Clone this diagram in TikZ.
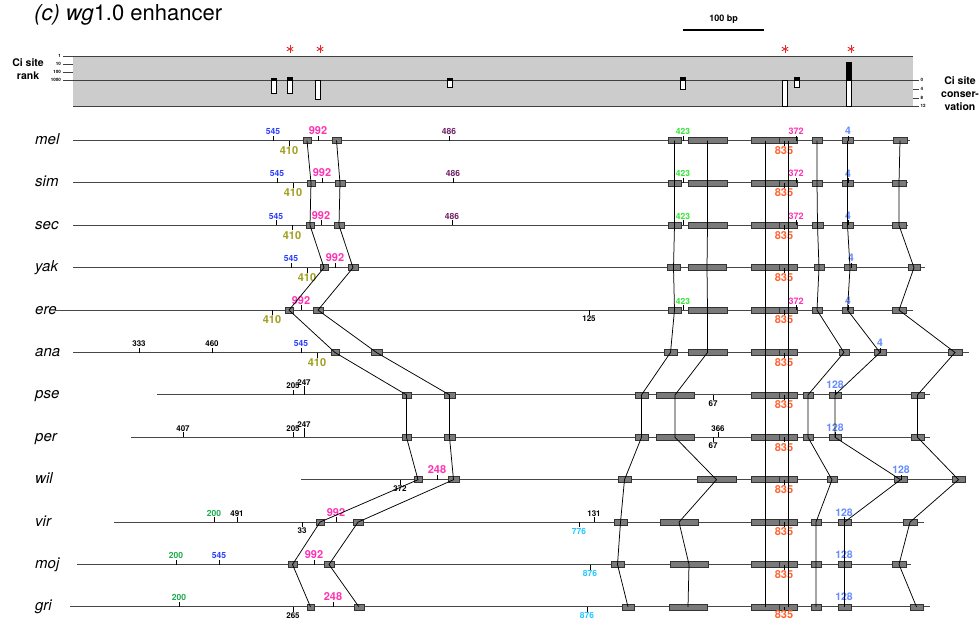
\documentclass[tikz,border=0pt]{standalone}
\usepackage{fontspec}
\setmainfont{TeX Gyre Heros}
\usetikzlibrary{positioning}
\definecolor{SiteBlue}{RGB}{40,60,255}
\definecolor{SiteOlive}{RGB}{160,160,30}
\definecolor{SiteMagenta}{RGB}{255,50,180}
\definecolor{SitePurple}{RGB}{110,30,100}
\definecolor{SiteGreen}{RGB}{50,230,50}
\definecolor{SiteOrange}{RGB}{255,100,50}
\definecolor{SiteSky}{RGB}{100,140,255}
\definecolor{SiteJade}{RGB}{30,170,80}
\definecolor{SiteCyan}{RGB}{30,200,255}
\definecolor{PanelGray}{RGB}{204,204,204}
\definecolor{StarRed}{RGB}{230,40,40}
\tikzset{
	chrom/.style={draw=black!72,line width=1.1pt},
	blk/.style={draw=black!80,fill=black!52,line width=0.6pt,inner sep=0pt,minimum height=6pt},
	link/.style={draw=black,line width=0.75pt},
	tick/.style={draw=black,line width=0.6pt},
	rule/.style={draw=black!75,line width=0.9pt},
	sp/.style={font=\itshape\fontsize{15}{16}\selectfont,inner sep=0pt,anchor=base west},
	axlab/.style={font=\bfseries\fontsize{10.5}{13}\selectfont,align=center,inner sep=0pt},
	tiny/.style={font=\bfseries\fontsize{4.5}{5}\selectfont,inner sep=0.3pt},
	lab/.style={inner sep=0.6pt,font=\bfseries\fontsize{8.5}{9}\selectfont},
	big/.style={font=\bfseries\fontsize{11}{12}\selectfont},
	s545/.style={lab,text=SiteBlue},
	s410/.style={lab,big,text=SiteOlive},
	s992/.style={lab,big,text=SiteMagenta},
	s486/.style={lab,text=SitePurple},
	s423/.style={lab,text=SiteGreen},
	s372/.style={lab,font=\bfseries\fontsize{9}{10}\selectfont,text=SiteMagenta},
	s835/.style={lab,big,text=SiteOrange},
	s128/.style={lab,font=\bfseries\fontsize{10.5}{11}\selectfont,text=SiteSky},
	s200/.style={lab,text=SiteJade},
	s876/.style={lab,text=SiteCyan},
	sk/.style={lab,font=\bfseries\fontsize{8}{9}\selectfont,text=black},
}
% site tick with label above / below the sequence line
\newcommand{\upsite}[5][5]{\draw[tick] (#3,0) -- (#3,-#1) node[above,#5] (#2-n#4) {#4};}
\newcommand{\dnsite}[5][5]{\draw[tick] (#3,0) -- (#3,#1) node[below,#5] (#2-n#4) {#4};}
% rank / conservation bar of the top panel
\newcommand{\cibar}[3]{%
	\filldraw[fill=white,draw=black,line width=0.7pt] (#1-2.5,80) rectangle (#1+2.5,#3);
	\filldraw[black,line width=0.7pt] (#1-2.5,#2) rectangle (#1+2.5,80);}
\newcommand{\cistar}[2]{\foreach \a in {90,150,210} \draw[StarRed,line width=0.9pt] (#1,#2) ++(\a:3.6) -- ++(\a+180:7.2);}

\begin{document}
\begin{tikzpicture}[x=1pt,y=-1pt]
	\useasboundingbox (0,0) rectangle (979,621);
	\node[anchor=west,inner sep=0pt,font=\fontsize{22}{25}\selectfont] (title) at (34,15) {\textit{(c) wg}1.0 enhancer};

	% scale bar
	\coordinate (bar-l) at (683,30);
	\coordinate (bar-r) at (764,30);
	\draw[line width=1.3pt] (bar-l) -- (bar-r);
	\node[font=\bfseries\fontsize{9}{10}\selectfont,inner sep=0pt] (bar-t) at (723.5,19) {100 bp};

	% Ci site panel
	\fill[PanelGray] (73,56) rectangle (913,106);
	\draw[rule] (63,56) -- (913,56);
	\draw[rule] (63,80) -- (919,80);
	\draw[rule] (73,106) -- (919,106);
	\foreach \y in {64,72} \draw[rule] (63,\y) -- (73,\y);
	\foreach \y in {89,98} \draw[rule] (913,\y) -- (919,\y);
	\foreach \v/\y in {1/56,10/64,100/72,1000/80} \node[tiny,anchor=east] (rk\v) at (61.5,\y) {\v};
	\foreach \v/\y in {0/80,4/89,8/98,12/106} \node[tiny,anchor=west] (cv\v) at (920,\y) {\v};
	\node[axlab] (rank) at (28,69.5) {Ci site\\rank};
	\node[axlab] (cons) at (960,93.5) {Ci site\\conser-\\vation};
	\cibar{273.5}{78.3}{93}
	\cibar{289.5}{77.3}{93}
	\cibar{317.5}{80}{99.3}
	\cibar{449.5}{78}{87.3}
	\cibar{683}{77.7}{89.3}
	\cibar{784.5}{80}{106}
	\cibar{796.5}{77.3}{87.3}
	\cibar{848.5}{62}{106}
	\cistar{290}{49}
	\cistar{320}{49}
	\cistar{785}{49}
	\cistar{851}{49}

	% mel
	\begin{scope}[yshift=-140.5pt]
		\node[sp] (mel) at (35,4) {mel};
		\coordinate (mel-l) at (73,0); \coordinate (mel-r) at (910,0);
		\draw[chrom] (mel-l) -- (mel-r);
		\foreach \a/\b [count=\t] in {303/311,332/341,668/681,688/727,751/779,779/797,812/822,842/853,893/907}
			\node[blk,minimum width={\b-\a}] (mel-\t) at ({(\a+\b)/2},0) {};
		\upsite{mel}{273}{545}{s545} \upsite{mel}{318}{992}{s992} \upsite{mel}{449}{486}{s486}
		\upsite{mel}{683}{423}{s423} \upsite{mel}{796}{372}{s372} \upsite{mel}{848}{4}{s128}
		\dnsite{mel}{289}{410}{s410} \dnsite{mel}{784}{835}{s835}
	\end{scope}
	% sim
	\begin{scope}[yshift=-182.9pt]
		\node[sp] (sim) at (35,4) {sim};
		\coordinate (sim-l) at (73,0); \coordinate (sim-r) at (908,0);
		\draw[chrom] (sim-l) -- (sim-r);
		\foreach \a/\b [count=\t] in {307/315,335/345,668/681,688/727,751/779,779/797,812/822,842/853,892/906}
			\node[blk,minimum width={\b-\a}] (sim-\t) at ({(\a+\b)/2},0) {};
		\upsite{sim}{277}{545}{s545} \upsite{sim}{322}{992}{s992} \upsite{sim}{453}{486}{s486}
		\upsite{sim}{683}{423}{s423} \upsite{sim}{796}{372}{s372} \upsite{sim}{848}{4}{s128}
		\dnsite{sim}{293}{410}{s410} \dnsite{sim}{784}{835}{s835}
	\end{scope}
	% sec
	\begin{scope}[yshift=-225.3pt]
		\node[sp] (sec) at (35,4) {sec};
		\coordinate (sec-l) at (73,0); \coordinate (sec-r) at (908,0);
		\draw[chrom] (sec-l) -- (sec-r);
		\foreach \a/\b [count=\t] in {306/314,334/344,668/681,688/727,751/779,779/797,812/823,842/853,892/906}
			\node[blk,minimum width={\b-\a}] (sec-\t) at ({(\a+\b)/2},0) {};
		\upsite{sec}{276}{545}{s545} \upsite{sec}{321}{992}{s992} \upsite{sec}{452}{486}{s486}
		\upsite{sec}{683}{423}{s423} \upsite{sec}{796}{372}{s372} \upsite{sec}{848}{4}{s128}
		\dnsite{sec}{292}{410}{s410} \dnsite{sec}{784}{835}{s835}
	\end{scope}
	% yak
	\begin{scope}[yshift=-267.7pt]
		\node[sp] (yak) at (35,4) {yak};
		\coordinate (yak-l) at (73,0); \coordinate (yak-r) at (925,0);
		\draw[chrom] (yak-l) -- (yak-r);
		\foreach \a/\b [count=\t] in {320/328,348/358,667/680,688/726,751/779,779/797,814/824,844/856,908/920}
			\node[blk,minimum width={\b-\a}] (yak-\t) at ({(\a+\b)/2},0) {};
		\upsite{yak}{291}{545}{s545} \upsite{yak}{335}{992}{s992} \upsite{yak}{851}{4}{s128}
		\dnsite{yak}{307}{410}{s410} \dnsite{yak}{784}{835}{s835}
	\end{scope}
	% ere
	\begin{scope}[yshift=-310.1pt]
		\node[sp] (ere) at (35,4) {ere};
		\coordinate (ere-l) at (55,0); \coordinate (ere-r) at (913,0);
		\draw[chrom] (ere-l) -- (ere-r);
		\foreach \a/\b [count=\t] in {285/293,313/323,668/681,688/727,751/779,779/797,812/822,842/853,892/906}
			\node[blk,minimum width={\b-\a}] (ere-\t) at ({(\a+\b)/2},0) {};
		\upsite{ere}{301}{992}{s992} \upsite{ere}{683}{423}{s423} \upsite{ere}{796}{372}{s372}
		\upsite{ere}{848}{4}{s128}
		\dnsite{ere}{272}{410}{s410} \dnsite{ere}{589}{125}{sk} \dnsite{ere}{784}{835}{s835}
	\end{scope}
	% ana
	\begin{scope}[yshift=-352.5pt]
		\node[sp] (ana) at (35,4) {ana};
		\coordinate (ana-l) at (73,0); \coordinate (ana-r) at (969,0);
		\draw[chrom] (ana-l) -- (ana-r);
		\foreach \a/\b [count=\t] in {331/339,371/382,664/677,688/727,751/779,779/797,839/849,874/886,948/962}
			\node[blk,minimum width={\b-\a}] (ana-\t) at ({(\a+\b)/2},0) {};
		\upsite{ana}{139}{333}{sk} \upsite{ana}{212}{460}{sk} \upsite{ana}{301}{545}{s545}
		\upsite{ana}{880}{4}{s128}
		\dnsite{ana}{317}{410}{s410} \dnsite{ana}{784}{835}{s835}
	\end{scope}
	% pse
	\begin{scope}[yshift=-394.9pt]
		\node[sp] (pse) at (35,4) {pse};
		\coordinate (pse-l) at (157,0); \coordinate (pse-r) at (930,0);
		\draw[chrom] (pse-l) -- (pse-r);
		\foreach \a/\b [count=\t] in {402/411,444/455,635/648,656/694,751/779,779/797,803/813,829/841,911/924}
			\node[blk,minimum width={\b-\a}] (pse-\t) at ({(\a+\b)/2},0) {};
		\upsite{pse}{293}{205}{sk} \upsite[9]{pse}{304}{247}{sk} \upsite{pse}{835}{128}{s128}
		\dnsite{pse}{713}{67}{sk} \dnsite{pse}{784}{835}{s835}
	\end{scope}
	% per
	\begin{scope}[yshift=-437.3pt]
		\node[sp] (per) at (35,4) {per};
		\coordinate (per-l) at (131,0); \coordinate (per-r) at (930,0);
		\draw[chrom] (per-l) -- (per-r);
		\foreach \a/\b [count=\t] in {402/411,444/455,635/648,656/694,751/779,779/797,803/813,829/841,911/924}
			\node[blk,minimum width={\b-\a}] (per-\t) at ({(\a+\b)/2},0) {};
		\upsite{per}{183}{407}{sk} \upsite{per}{293}{205}{sk} \upsite[9]{per}{304}{247}{sk}
		\upsite{per}{718}{366}{sk} \upsite{per}{835}{128}{s128}
		\dnsite{per}{713}{67}{sk} \dnsite{per}{784}{835}{s835}
	\end{scope}
	% wil
	\begin{scope}[yshift=-479.7pt]
		\node[sp] (wil) at (35,4) {wil};
		\coordinate (wil-l) at (301,0); \coordinate (wil-r) at (965,0);
		\draw[chrom] (wil-l) -- (wil-r);
		\foreach \a/\b [count=\t] in {414/422,448/459,618/631,697/736,751/779,779/797,827/837,894/907,952/965}
			\node[blk,minimum width={\b-\a}] (wil-\t) at ({(\a+\b)/2},0) {};
		\upsite{wil}{437}{248}{s992} \upsite{wil}{901}{128}{s128}
		\dnsite{wil}{400}{372}{sk} \dnsite{wil}{784}{835}{s835}
	\end{scope}
	% vir
	\begin{scope}[yshift=-522.1pt]
		\node[sp] (vir) at (35,4) {vir};
		\coordinate (vir-l) at (114,0); \coordinate (vir-r) at (924,0);
		\draw[chrom] (vir-l) -- (vir-r);
		\foreach \a/\b [count=\t] in {316/324,353/363,614/627,660/698,751/779,779/797,811/821,838/851,903/917}
			\node[blk,minimum width={\b-\a}] (vir-\t) at ({(\a+\b)/2},0) {};
		\upsite{vir}{214}{200}{s200} \upsite{vir}{237}{491}{sk} \upsite{vir}{336}{992}{s992}
		\upsite{vir}{594}{131}{sk} \upsite{vir}{844}{128}{s128}
		\dnsite{vir}{302}{33}{sk} \dnsite{vir}{579}{776}{s876} \dnsite{vir}{784}{835}{s835}
	\end{scope}
	% moj
	\begin{scope}[yshift=-564.5pt]
		\node[sp] (moj) at (35,4) {moj};
		\coordinate (moj-l) at (77,0); \coordinate (moj-r) at (911,0);
		\draw[chrom] (moj-l) -- (moj-r);
		\foreach \a/\b [count=\t] in {288/297,324/334,611/624,670/708,751/779,779/797,811/821,838/851,892/906}
			\node[blk,minimum width={\b-\a}] (moj-\t) at ({(\a+\b)/2},0) {};
		\upsite{moj}{176}{200}{s200} \upsite{moj}{219}{545}{s545} \upsite{moj}{314}{992}{s992}
		\upsite{moj}{844}{128}{s128}
		\dnsite{moj}{590}{876}{s876} \dnsite{moj}{784}{835}{s835}
	\end{scope}
	% gri
	\begin{scope}[yshift=-606.9pt]
		\node[sp] (gri) at (35,4) {gri};
		\coordinate (gri-l) at (70,0); \coordinate (gri-r) at (930,0);
		\draw[chrom] (gri-l) -- (gri-r);
		\foreach \a/\b [count=\t] in {307/314,354/364,622/634,669/707,751/779,779/797,811/821,838/851,910/923}
			\node[blk,minimum width={\b-\a}] (gri-\t) at ({(\a+\b)/2},0) {};
		\upsite{gri}{179}{200}{s200} \upsite{gri}{333}{248}{s992} \upsite{gri}{844}{128}{s128}
		\dnsite{gri}{293}{265}{sk} \dnsite{gri}{587}{876}{s876} \dnsite[3]{gri}{784}{835}{s835}
	\end{scope}

	% aligned blocks
	\foreach \t in {1,2,3,4,7,8,9}
		\draw[link] (mel-\t.center) -- (sim-\t.center) -- (sec-\t.center) -- (yak-\t.center)
			-- (ere-\t.center) -- (ana-\t.center) -- (pse-\t.center) -- (per-\t.center)
			-- (wil-\t.center) -- (vir-\t.center) -- (moj-\t.center) -- (gri-\t.center);
	\foreach \t in {5,6}
		\draw[link] (mel-\t.center) -- (gri-\t.center);
\end{tikzpicture}
\end{document}
